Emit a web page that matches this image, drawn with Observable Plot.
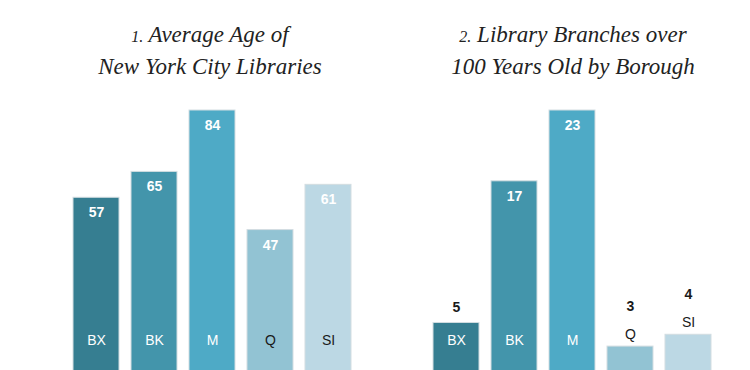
<!DOCTYPE html>
<html>
<head>
<meta charset="utf-8">
<script src="https://cdn.jsdelivr.net/npm/d3@7"></script>
<script src="https://cdn.jsdelivr.net/npm/@observablehq/plot@0.6"></script>
<style>
  html, body { margin: 0; padding: 0; background: #fff; overflow: hidden; }
  #page { position: relative; width: 750px; height: 370px; overflow: hidden; background: #fff; }
  .title { position: absolute; top: 20px; text-align: center; font-family: "Liberation Serif", "Times New Roman", serif;
           font-style: italic; font-size: 23px; line-height: 30px; color: #222; }
  .num { font-size: 16px; }
  .chart { position: absolute; top: 100px; }
</style>
</head>
<body>
<div id="page">
  <div class="title" style="left:0px;width:420px;"><span class="num">1.</span> Average Age of<br>New York City Libraries</div>
  <div class="title" style="left:396px;width:354px;"><span class="num">2.</span> Library Branches over<br>100 Years Old by Borough</div>
  <div class="chart" id="c1" style="left:0px;"></div>
  <div class="chart" id="c2" style="left:375px;"></div>
</div>
<script>
// Data
const boroughs = ["BX", "BK", "M", "Q", "SI"];
const avgAge = [57, 65, 84, 47, 61];
const oldBranches = [5, 17, 23, 3, 4];

const palette = ["#367e91", "#4395ab", "#4eaac6", "#92c3d3", "#bcd8e4"];
const darkLabel = new Set(["Q", "SI"]);

function chart(values, marginLeft, marginRight) {
  const data = boroughs.map((b, i) => ({b, v: values[i]}));
  const max = d3.max(values);
  const valueInside = d => d.v / max >= 0.25;
  const catInside = d => d.v / max >= 0.2;
  const font = "'Liberation Sans', Arial, sans-serif";
  return Plot.plot({
    width: 375,
    height: 270,
    marginLeft, marginRight, marginTop: 0, marginBottom: 0,
    style: {overflow: "hidden", background: "transparent", fontFamily: font},
    x: {domain: boroughs, padding: 0.2, axis: null},
    y: {domain: [0, max], range: [281.5, 10], axis: null},
    color: {domain: boroughs, range: palette},
    marks: [
      Plot.barY(data, {x: "b", y: "v", fill: "b", stroke: "#d3dde1", strokeWidth: 1}),
      // value labels inside bars
      Plot.text(data.filter(valueInside), {x: "b", y: "v", text: d => String(d.v), dy: 15,
        fill: "white", fontWeight: "bold", fontSize: 14}),
      // category labels inside bars (near the bottom)
      Plot.text(data.filter(catInside), {x: "b", y: () => 0, text: "b", dy: -41,
        fill: d => darkLabel.has(d.b) ? "#1a1a1a" : "white", fontSize: 14}),
      // category labels above short bars
      Plot.text(data.filter(d => !catInside(d)), {x: "b", y: "v", text: "b", dy: -12,
        fill: "#1a1a1a", fontSize: 14}),
      // value labels above short bars
      Plot.text(data.filter(d => !valueInside(d) && catInside(d)), {x: "b", y: "v", text: d => String(d.v), dy: -15,
        fill: "#1a1a1a", fontWeight: "bold", fontSize: 14}),
      Plot.text(data.filter(d => !valueInside(d) && !catInside(d)), {x: "b", y: "v", text: d => String(d.v), dy: -40,
        fill: "#1a1a1a", fontWeight: "bold", fontSize: 14})
    ]
  });
}

document.getElementById("c1").appendChild(chart(avgAge, 60, 10));
document.getElementById("c2").appendChild(chart(oldBranches, 45, 26));
</script>
</body>
</html>
